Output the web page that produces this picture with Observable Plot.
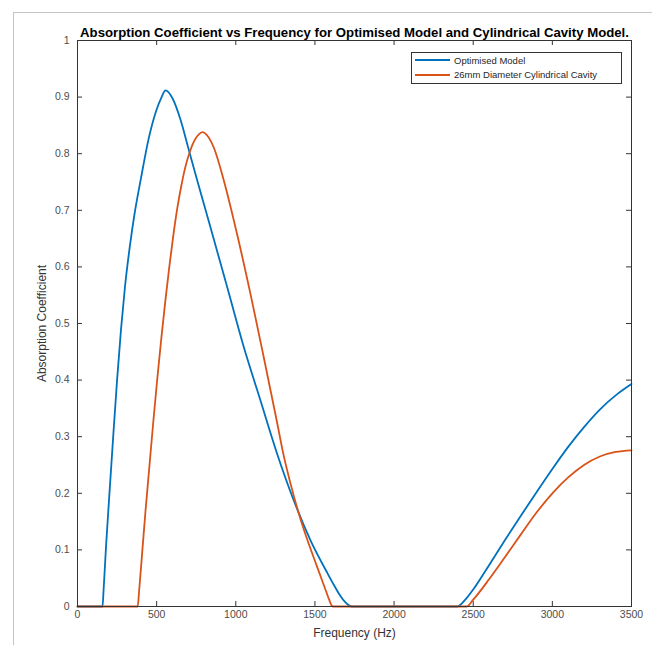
<!DOCTYPE html>
<html>
<head>
<meta charset="utf-8">
<script src="https://cdn.jsdelivr.net/npm/d3@7"></script>
<script src="https://cdn.jsdelivr.net/npm/@observablehq/plot@0.6"></script>
<style>
  html, body { margin: 0; padding: 0; background: #fff; }
  #wrap { position: relative; width: 652px; height: 645px; overflow: hidden; font-family: "Liberation Sans", Arial, sans-serif; }
  #outer { position: absolute; left: 13px; top: 12px; width: 700px; height: 700px; border-left: 1px solid #c4c4c4; border-top: 1px solid #c4c4c4; }
  #chart { position: absolute; left: 0; top: 0; }
  #legend { position: absolute; left: 411px; top: 52px; width: 209px; height: 30px; border: 1px solid #333; background: #fff; font-size: 9.5px; color: #262626; }
  .row { position: absolute; left: 0; height: 12px; display: flex; align-items: center; }
  .sw { width: 35px; height: 0; margin-left: 3px; margin-right: 4px; border-top: 2px solid; }
</style>
</head>
<body>
<div id="wrap">
  <div id="outer"></div>
  <div id="chart"></div>
  <div id="legend"></div>
</div>
<script>
const titleText = "Absorption Coefficient vs Frequency for Optimised Model and Cylindrical Cavity Model.";
const xLabel = "Frequency (Hz)";
const yLabel = "Absorption Coefficient";
const seriesNames = ["Optimised Model", "26mm Diameter Cylindrical Cavity"];
const seriesColors = ["#0072BD", "#D95319"];
const xTicks = [0, 500, 1000, 1500, 2000, 2500, 3000, 3500];
const xTickLabels = ["0", "500", "1000", "1500", "2000", "2500", "3000", "3500"];
const yTicks = [0, 0.1, 0.2, 0.3, 0.4, 0.5, 0.6, 0.7, 0.8, 0.9, 1];
const yTickLabels = ["0", "0.1", "0.2", "0.3", "0.4", "0.5", "0.6", "0.7", "0.8", "0.9", "1"];

// Optimised Model
const optFreq = [0, 158, 165, 180, 200, 225, 250, 275, 300, 330, 360, 400, 450, 500, 530, 556, 600, 651, 700, 756, 840, 946, 1051, 1156, 1261, 1367, 1472, 1577, 1620, 1660, 1690, 1715, 1735, 2400, 2450, 2500, 2600, 2700, 2800, 2900, 3000, 3100, 3200, 3300, 3400, 3500];
const optAbs  = [0, 0, 0.03, 0.105, 0.192, 0.298, 0.40, 0.49, 0.565, 0.635, 0.693, 0.755, 0.827, 0.878, 0.899, 0.912, 0.898, 0.86, 0.81, 0.753, 0.67, 0.564, 0.458, 0.364, 0.27, 0.187, 0.117, 0.06, 0.038, 0.019, 0.008, 0.002, 0, 0, 0.012, 0.03, 0.073, 0.117, 0.16, 0.202, 0.243, 0.282, 0.317, 0.348, 0.373, 0.393];

// 26mm Diameter Cylindrical Cavity
const cylFreq = [0, 380, 390, 410, 430, 455, 480, 505, 530, 555, 580, 605, 630, 655, 680, 710, 740, 770, 790, 810, 861, 924, 1008, 1093, 1177, 1261, 1300, 1345, 1390, 1430, 1514, 1560, 1590, 1605, 1612, 2460, 2500, 2600, 2700, 2800, 2900, 3000, 3100, 3200, 3300, 3400, 3500];
const cylAbs  = [0, 0, 0.03, 0.10, 0.17, 0.25, 0.33, 0.405, 0.475, 0.54, 0.60, 0.655, 0.703, 0.742, 0.775, 0.804, 0.824, 0.835, 0.838, 0.835, 0.811, 0.753, 0.658, 0.552, 0.44, 0.325, 0.27, 0.218, 0.172, 0.136, 0.07, 0.035, 0.012, 0.002, 0, 0, 0.012, 0.048, 0.087, 0.127, 0.166, 0.20, 0.228, 0.25, 0.265, 0.273, 0.276];

const opt = optFreq.map((f, i) => ({f, a: optAbs[i]}));
const cyl = cylFreq.map((f, i) => ({f, a: cylAbs[i]}));

const axisColor = "#333";
const labelColor = "#4d4d4d";

const chart = Plot.plot({
  width: 652,
  height: 645,
  marginLeft: 77,
  marginRight: 21,
  marginTop: 40,
  marginBottom: 39,
  style: {fontFamily: "'Liberation Sans', Arial, sans-serif", background: "transparent", overflow: "visible"},
  x: {domain: [0, 3500]},
  y: {domain: [0, 1]},
  marks: [
    Plot.axisX(xTicks, {anchor: "bottom", tickSize: 0, tickPadding: 4, fontSize: 10.5, fill: labelColor, label: null, tickFormat: (d, i) => xTickLabels[i]}),
    Plot.axisY(yTicks, {anchor: "left", tickSize: 0, tickPadding: 8, fontSize: 10.5, fill: labelColor, label: null, tickFormat: (d, i) => yTickLabels[i]}),
    Plot.tickX(xTicks, {x: d => d, insetTop: 561, stroke: axisColor}),
    Plot.tickX(xTicks, {x: d => d, insetBottom: 561, stroke: axisColor}),
    Plot.tickY(yTicks, {y: d => d, insetRight: 549, stroke: axisColor}),
    Plot.tickY(yTicks, {y: d => d, insetLeft: 549, stroke: axisColor}),
    Plot.line(opt, {x: "f", y: "a", stroke: seriesColors[0], strokeWidth: 1.8, curve: "monotone-x"}),
    Plot.line(cyl, {x: "f", y: "a", stroke: seriesColors[1], strokeWidth: 1.8, curve: "monotone-x"}),
    Plot.frame({stroke: axisColor}),
    Plot.text([titleText], {text: d => d, frameAnchor: "top", textAnchor: "middle", lineAnchor: "middle", dy: -8, fontWeight: "bold", fontSize: 13.2, fill: "#000"}),
    Plot.text([xLabel], {text: d => d, frameAnchor: "bottom", textAnchor: "middle", lineAnchor: "middle", dy: 27, fontSize: 12, fill: "#333"}),
    Plot.text([yLabel], {text: d => d, frameAnchor: "left", textAnchor: "middle", lineAnchor: "middle", rotate: -90, dx: -35, fontSize: 12, fill: "#333"})
  ]
});
document.getElementById("chart").appendChild(chart);

const legend = document.getElementById("legend");
seriesNames.forEach((name, i) => {
  const row = document.createElement("div");
  row.className = "row";
  row.style.top = (1 + i * 14.5) + "px";
  const sw = document.createElement("div");
  sw.className = "sw";
  sw.style.borderTopColor = seriesColors[i];
  const t = document.createElement("span");
  t.textContent = name;
  row.appendChild(sw);
  row.appendChild(t);
  legend.appendChild(row);
});
</script>
</body>
</html>
